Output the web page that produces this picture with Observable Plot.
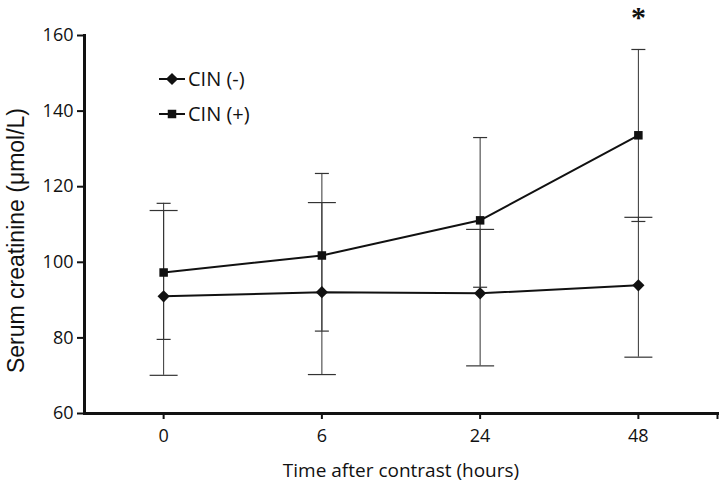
<!DOCTYPE html>
<html>
<head>
<meta charset="utf-8">
<script src="https://cdn.jsdelivr.net/npm/d3@7"></script>
<script src="https://cdn.jsdelivr.net/npm/@observablehq/plot@0.6"></script>
<style>
  html, body { margin: 0; padding: 0; background: #fff; }
  #wrap { position: relative; width: 720px; height: 482px; }
  #legend { position: absolute; left: 158px; top: 61px; font-family: "Open Sans", sans-serif; font-size: 20px; color: #111; }
  #legend .item { display: flex; align-items: center; height: 35px; line-height: 35px; }
  #legend svg { display: block; margin-right: 2px; }
</style>
</head>
<body>
<div id="wrap"><div id="legend"></div></div>
<script>
const timeLabels = ["0", "6", "24", "48"];
const seriesNames = ["CIN (-)", "CIN (+)"];
const cinNegMean = [91.0, 92.1, 91.8, 93.9];
const cinNegHigh = [113.7, 115.8, 108.7, 111.9];
const cinNegLow  = [70.1, 70.3, 72.6, 74.9];
const cinPosMean = [97.3, 101.8, 111.1, 133.6];
const cinPosHigh = [115.6, 123.5, 133.0, 156.3];
const cinPosLow  = [79.6, 81.8, 93.4, 110.8];
const yTicks = [60, 80, 100, 120, 140, 160];
const significant = ["48"];
const xLabel = "Time after contrast (hours)";
const yLabel = "Serum creatinine (\u03bcmol/L)";

const rows = [];
timeLabels.forEach((t, i) => {
  rows.push({series: seriesNames[0], i, mean: cinNegMean[i], hi: cinNegHigh[i], lo: cinNegLow[i]});
  rows.push({series: seriesNames[1], i, mean: cinPosMean[i], hi: cinPosHigh[i], lo: cinPosLow[i]});
});
const neg = rows.filter(d => d.series === seriesNames[0]);
const pos = rows.filter(d => d.series === seriesNames[1]);
const stars = pos.filter(d => significant.includes(timeLabels[d.i]));

const cap = {draw(ctx, size) { const h = Math.sqrt(size / Math.PI); ctx.moveTo(-h, 0); ctx.lineTo(h, 0); }};
const n = timeLabels.length;

const chart = Plot.plot({
  width: 720,
  height: 482,
  marginTop: 35,
  marginBottom: 69,
  marginLeft: 84,
  marginRight: 3,
  style: {fontFamily: "Open Sans, sans-serif", fontSize: "18px", color: "#111", background: "transparent"},
  x: {type: "linear", domain: [-0.5, n - 0.5]},
  y: {domain: [60, 160]},
  marks: [
    Plot.axisX({ticks: [...d3.range(n), n - 0.5], tickFormat: i => timeLabels[i] ?? "", tickSize: 6, tickPadding: 10, strokeWidth: 2, fontSize: 18, label: null}),
    Plot.text([xLabel], {frameAnchor: "bottom", dy: 63, fontSize: 19, fill: "#111"}),
    Plot.axisY({ticks: yTicks, tickSize: 7, tickPadding: 4, strokeWidth: 2, fontSize: 18, label: null}),
    Plot.text([yLabel], {frameAnchor: "left", textAnchor: "middle", rotate: -90, dx: -68, dy: 16, fontSize: 23, fontFamily: "Liberation Sans, Arial, sans-serif", fill: "#111"}),
    Plot.ruleX(rows, {x: "i", y1: "lo", y2: "hi", stroke: "#333", strokeWidth: 1}),
    Plot.dot(neg, {x: "i", y: "hi", symbol: cap, r: 14, stroke: "#333", strokeWidth: 1.2, fill: "none"}),
    Plot.dot(neg, {x: "i", y: "lo", symbol: cap, r: 14, stroke: "#333", strokeWidth: 1.2, fill: "none"}),
    Plot.dot(pos, {x: "i", y: "hi", symbol: cap, r: 7, stroke: "#333", strokeWidth: 1.2, fill: "none"}),
    Plot.dot(pos, {x: "i", y: "lo", symbol: cap, r: 7, stroke: "#333", strokeWidth: 1.2, fill: "none"}),
    Plot.line(neg, {x: "i", y: "mean", stroke: "#111", strokeWidth: 2}),
    Plot.line(pos, {x: "i", y: "mean", stroke: "#111", strokeWidth: 2}),
    Plot.dot(neg, {x: "i", y: "mean", symbol: "diamond2", r: 5.5, fill: "#111", stroke: "none"}),
    Plot.dot(pos, {x: "i", y: "mean", symbol: "square", r: 4.8, fill: "#111", stroke: "none"}),
    Plot.text(stars, {x: "i", y: "hi", text: () => "*", dy: -32, fontSize: 30, fontWeight: "bold", fontFamily: "Liberation Serif, serif", fill: "#111"}),
    Plot.frame({anchor: "left", strokeWidth: 3, stroke: "#111"}),
    Plot.frame({anchor: "bottom", strokeWidth: 3, stroke: "#111"})
  ]
});
const wrap = document.getElementById("wrap");
wrap.insertBefore(chart, wrap.firstChild);

// legend
const legend = document.getElementById("legend");
seriesNames.forEach((name, k) => {
  const item = document.createElement("div");
  item.className = "item";
  const path = d3.symbol(k === 0 ? d3.symbolDiamond2 : d3.symbolSquare, k === 0 ? Math.PI * 5.5 * 5.5 : Math.PI * 4.8 * 4.8)();
  item.innerHTML = `<svg width="28" height="14"><line x1="1" x2="27" y1="7" y2="7" stroke="#111" stroke-width="2"/><path d="${path}" transform="translate(14,7)" fill="#111"/></svg><span>${name}</span>`;
  legend.appendChild(item);
});
</script>
</body>
</html>
